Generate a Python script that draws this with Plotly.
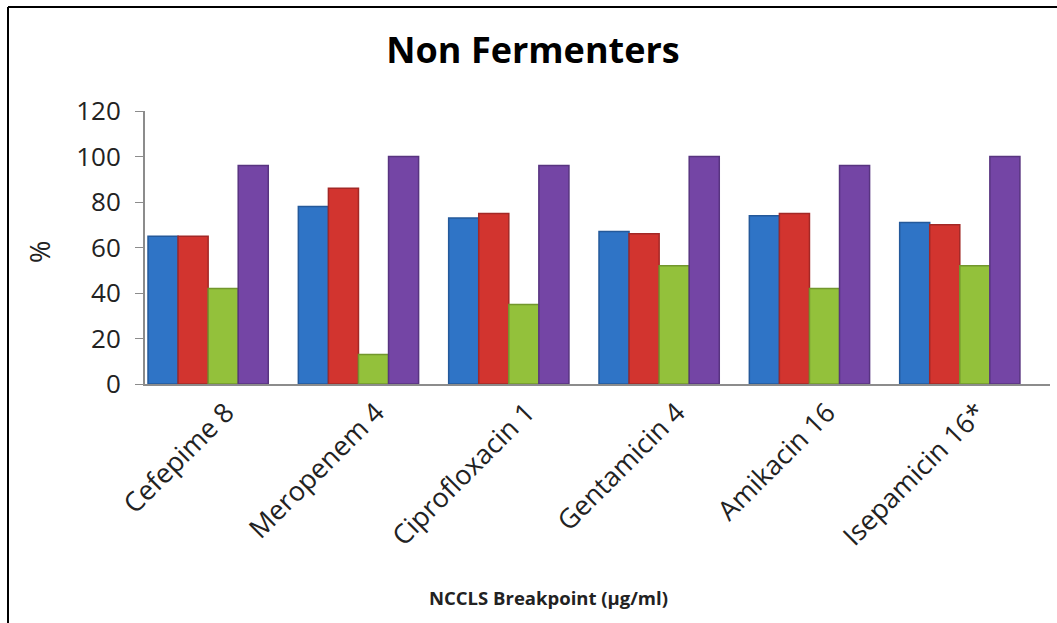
import plotly.graph_objects as go

# Susceptibility of non-fermenters at NCCLS breakpoints
categories = ["Cefepime 8", "Meropenem 4", "Ciprofloxacin 1",
              "Gentamicin 4", "Amikacin 16", "Isepamicin 16*"]
series_1 = [65, 78, 73, 67, 74, 71]
series_2 = [65, 86, 75, 66, 75, 70]
series_3 = [42, 13, 35, 52, 42, 52]
series_4 = [96, 100, 96, 100, 96, 100]
y_ticks = [0, 20, 40, 60, 80, 100, 120]

series = [series_1, series_2, series_3, series_4]
colors = ["#2F74C6", "#D2342F", "#93C13B", "#7445A5"]
edges = ["#24599A", "#A32826", "#72972D", "#583480"]

fig = go.Figure()
for vals, col, edge in zip(series, colors, edges):
    fig.add_trace(go.Bar(
        x=list(range(len(categories))), y=vals,
        marker=dict(color=col, line=dict(color=edge, width=1.5)),
        showlegend=False,
    ))

# plot area in pixels: x 145..1050, y 111..384
L, R, T, B = 145, 1050, 111, 384
W, H = R - L, B - T

def px(x):
    return (x - L) / W

def py(y):
    return (B - y) / H

fig.update_layout(
    width=1057, height=623,
    margin=dict(l=L, r=1057 - R, t=T, b=623 - B),
    paper_bgcolor="white", plot_bgcolor="white",
    barmode="group", bargap=0.2, bargroupgap=0,
    title=dict(text="<b>Non Fermenters</b>", x=533 / 1057, xanchor="center",
               y=1 - 50 / 623, yanchor="middle",
               font=dict(family="Open Sans", size=36, color="black")),
    xaxis=dict(
        range=[-0.42, 5.6],
        tickvals=list(range(len(categories))), ticktext=categories,
        tickangle=-45, tickfont=dict(family="Open Sans", size=27, color="#222"),
        ticklabelshift=18, ticklabelstandoff=0,
        showline=True, linecolor="#8C8C8C", linewidth=2,
        ticks="", showgrid=False, zeroline=False,
    ),
    yaxis=dict(
        range=[0, 120], tickvals=y_ticks,
        tickfont=dict(family="Open Sans", size=26, color="#222"),
        ticklabelstandoff=9,
        showline=True, linecolor="#8C8C8C", linewidth=2,
        ticks="outside", ticklen=8, tickcolor="#8C8C8C",
        showgrid=False, zeroline=False,
    ),
    annotations=[
        dict(text="%", x=px(40), y=py(252), xref="paper", yref="paper",
             xanchor="center", yanchor="middle",
             showarrow=False, textangle=-90,
             font=dict(family="Open Sans", size=27, color="#222")),
        dict(text="<b>NCCLS Breakpoint (µg/ml)</b>", x=px(548), y=py(597),
             xref="paper", yref="paper", xanchor="center", yanchor="middle",
             showarrow=False,
             font=dict(family="Open Sans", size=18.5, color="#222")),
    ],
    shapes=[
        dict(type="line", xref="paper", yref="paper",
             x0=px(8), x1=px(8), y0=py(623), y1=py(7),
             line=dict(color="black", width=2)),
        dict(type="line", xref="paper", yref="paper",
             x0=px(8), x1=px(1057), y0=py(7), y1=py(7),
             line=dict(color="black", width=2)),
    ],
)

fig.write_html("out.html")
